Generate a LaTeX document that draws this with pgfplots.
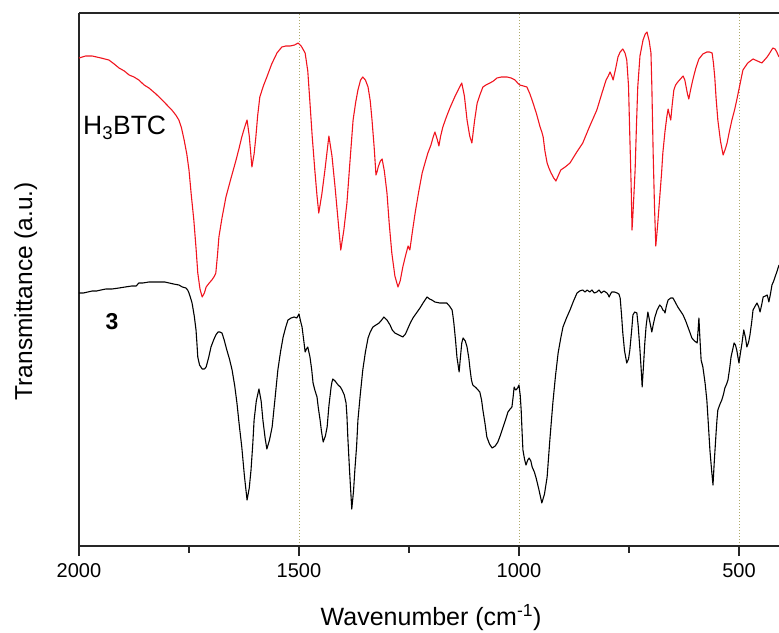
\documentclass[border=0pt]{standalone}
\usepackage{pgfplots}
\pgfplotsset{compat=1.18}
\usepackage{fontspec}
\setmainfont{Liberation Sans}
\definecolor{gridc}{RGB}{175,170,105}
\definecolor{specred}{RGB}{240,20,30}
\begin{document}
\begin{tikzpicture}
\begin{axis}[
  scale only axis,
  width=700pt, height=533pt,
  x dir=reverse,
  xmin=409, xmax=2000,
  ymin=0, ymax=533,
  axis x line*=box,
  axis y line*=left,
  axis line style={-, line width=1.6pt, black!85},
  xtick={500,1000,1500,2000},
  minor xtick={750,1250,1750},
  xtick pos=bottom,
  xtick align=outside,
  major tick length=10pt,
  minor tick length=6.5pt,
  every tick/.style={black!85, line width=1.4pt},
  ytick=\empty,
  xmajorgrids,
  major grid style={gridc, dash pattern=on 1pt off 2pt, line width=0.8pt},
  /pgf/number format/assume math mode=true,
  /pgf/number format/1000 sep={},
  xticklabel style={font=\fontsize{20}{22}\selectfont, yshift=-4pt},
  xlabel={Wavenumber (cm\textsuperscript{-1})},
  ylabel={Transmittance (a.u.)},
  every axis x label/.style={at={(axis description cs:0.503,-0.150)}, anchor=base, font=\fontsize{25}{27}\selectfont},
  every axis y label/.style={at={(axis description cs:-0.067,0.478)}, rotate=90, anchor=base, font=\fontsize{24.5}{26}\selectfont},
  clip=true,
]
\coordinate (sw) at (rel axis cs:0,0);
\coordinate (ne) at (rel axis cs:1,1);
% H3BTC
\addplot[specred, line width=1.1pt, line join=round] coordinates {
(2000,488) (1985,490) (1970,490) (1950,488) (1932,486) (1920,482) (1909,478) (1897,475) (1886,471) (1875,469) (1864,466) (1852,461) (1841,458) (1825,452) (1811,446) (1800,441) (1789,436) (1780,431) (1773,426) (1767,418) (1761,406) (1755,392) (1750,376) (1745,352) (1739,326) (1734,298) (1730,273) (1725,257) (1720,249) (1715,253) (1711,259) (1704,263) (1698,266) (1692,270) (1689,273) (1685,292) (1682,309) (1675,328) (1666,349) (1655,367) (1643,386) (1636,398) (1630,409) (1624,418) (1618,426) (1613,410) (1607,379) (1602,392) (1598,409) (1594,430) (1589,449) (1581,460) (1573,469) (1562,482) (1550,493) (1539,499) (1530,500) (1520,500) (1510,501) (1502,503) (1495,500) (1486,493) (1480,475) (1475,443) (1470,410) (1464,376) (1459,350) (1455,333) (1448,352) (1441,376) (1436,395) (1432,410) (1425,390) (1418,359) (1411,325) (1405,296) (1398,316) (1391,343) (1384,385) (1377,426) (1371,444) (1366,456) (1360,466) (1355,469) (1349,466) (1343,459) (1338,445) (1334,426) (1329,398) (1325,371) (1322,375) (1320,379) (1315,385) (1311,387) (1306,375) (1300,353) (1295,323) (1289,293) (1282,270) (1275,259) (1270,265) (1264,279) (1258,290) (1252,300) (1248,296) (1242,315) (1236,333) (1228,354) (1220,373) (1213,384) (1207,393) (1200,401) (1195,409) (1191,414) (1186,407) (1182,400) (1178,410) (1173,419) (1165,429) (1157,438) (1145,450) (1136,458) (1130,463) (1124,450) (1118,426) (1112,410) (1107,403) (1101,425) (1095,443) (1088,452) (1082,459) (1075,461) (1066,463) (1058,465) (1050,468) (1040,469) (1027,469) (1018,468) (1009,466) (1003,463) (998,461) (990,460) (982,459) (975,452) (968,443) (960,432) (952,419) (948,414) (945,409) (941,395) (936,383) (932,378) (927,373) (921,368) (916,365) (911,370) (905,376) (895,379) (884,383) (870,393) (855,403) (840,419) (823,436) (812,452) (802,466) (797,470) (793,474) (789,470) (786,466) (780,478) (775,489) (770,494) (764,497) (759,493) (755,486) (751,460) (748,409) (745,360) (743,316) (740,340) (736,376) (733,420) (730,459) (725,490) (718,506) (713,512) (709,514) (704,505) (700,493) (698,460) (695,393) (692,340) (689,300) (685,320) (680,349) (676,372) (673,393) (668,415) (664,429) (661,437) (658,431) (655,426) (652,440) (648,456) (644,461) (639,464) (633,467) (627,470) (623,466) (620,459) (617,452) (614,447) (610,456) (605,466) (598,478) (591,487) (582,492) (573,494) (567,494) (561,493) (558,483) (555,469) (552,448) (548,426) (542,405) (536,391) (531,397) (527,403) (522,414) (516,426) (510,436) (505,446) (498,461) (491,476) (480,483) (468,487) (458,485) (448,483) (442,486) (436,489) (430,493) (423,498) (418,497) (414,494) (409,489)
};
% compound 3
\addplot[black, line width=1.1pt, line join=round] coordinates {
(2000,253) (1990,253) (1980,254) (1970,255) (1960,255) (1950,256) (1939,257) (1925,257) (1909,258) (1895,259) (1880,260) (1870,260) (1864,263) (1855,263) (1841,264) (1830,264) (1814,264) (1805,264) (1795,263) (1785,262) (1773,261) (1765,259) (1757,258) (1753,256) (1750,253) (1747,249) (1743,243) (1738,230) (1734,216) (1732,203) (1730,189) (1726,181) (1720,177) (1715,177) (1711,179) (1705,189) (1700,199) (1694,206) (1689,211) (1684,214) (1680,214) (1675,213) (1670,206) (1664,196) (1658,187) (1652,176) (1646,160) (1641,143) (1636,122) (1630,99) (1624,70) (1618,46) (1613,58) (1609,76) (1605,102) (1602,126) (1597,145) (1591,157) (1586,145) (1582,126) (1577,108) (1573,97) (1567,106) (1561,119) (1555,145) (1548,176) (1542,194) (1536,209) (1530,219) (1525,226) (1518,228) (1511,229) (1505,228) (1500,232) (1497,226) (1493,219) (1489,205) (1486,194) (1483,197) (1480,199) (1478,195) (1475,189) (1471,176) (1468,163) (1464,156) (1459,149) (1456,138) (1452,126) (1449,115) (1445,104) (1440,110) (1436,119) (1432,140) (1427,159) (1425,164) (1423,167) (1418,165) (1411,161) (1406,159) (1402,156) (1397,151) (1393,143) (1391,130) (1389,109) (1385,75) (1380,37) (1376,55) (1373,76) (1369,100) (1366,126) (1361,150) (1355,176) (1349,194) (1343,208) (1338,214) (1332,219) (1325,221) (1318,223) (1312,226) (1307,229) (1300,226) (1293,221) (1288,216) (1282,213) (1273,211) (1264,209) (1258,212) (1252,218) (1247,223) (1241,228) (1233,233) (1225,238) (1218,243) (1209,249) (1203,247) (1198,246) (1191,244) (1180,243) (1170,243) (1164,243) (1158,240) (1152,236) (1150,230) (1148,223) (1144,205) (1141,189) (1138,180) (1136,174) (1133,189) (1130,203) (1127,208) (1122,205) (1118,199) (1114,188) (1111,176) (1108,166) (1105,161) (1097,158) (1089,154) (1085,146) (1082,136) (1077,122) (1073,109) (1067,102) (1061,98) (1054,100) (1048,104) (1042,111) (1036,119) (1030,127) (1025,134) (1020,137) (1016,139) (1013,150) (1011,159) (1009,157) (1007,156) (1003,158) (1000,161) (997,150) (995,136) (993,115) (991,96) (987,86) (984,81) (980,86) (977,88) (973,85) (970,79) (965,74) (961,68) (955,57) (948,43) (942,52) (936,69) (930,105) (923,143) (917,170) (911,193) (905,208) (900,219) (892,228) (884,236) (876,245) (868,253) (862,255) (855,256) (850,254) (845,256) (839,254) (834,256) (829,253) (823,254) (818,256) (813,253) (807,255) (800,253) (797,251) (795,249) (792,252) (789,254) (783,254) (777,253) (773,252) (770,248) (767,232) (764,213) (760,195) (755,183) (751,187) (748,196) (744,215) (741,231) (737,234) (732,233) (729,220) (725,196) (722,175) (720,159) (717,180) (714,203) (711,220) (707,234) (703,225) (698,214) (695,221) (691,229) (686,236) (680,241) (676,239) (673,236) (670,235) (668,233) (665,240) (661,246) (655,248) (650,248) (645,244) (639,239) (633,235) (627,231) (621,225) (616,219) (611,213) (607,208) (601,205) (595,203) (593,215) (591,228) (589,210) (586,186) (582,179) (577,163) (573,146) (570,125) (566,96) (562,75) (559,61) (556,85) (552,113) (550,126) (548,136) (543,142) (539,146) (535,152) (532,158) (528,162) (525,166) (521,178) (518,189) (514,197) (511,203) (508,201) (505,196) (502,188) (500,183) (497,192) (493,203) (491,210) (489,216) (485,208) (482,199) (478,204) (475,211) (471,224) (468,236) (463,240) (459,243) (455,239) (452,234) (448,242) (445,249) (440,250) (436,251) (434,248) (432,244) (428,253) (425,261) (421,265) (418,269) (414,274) (409,281)
};
\node[anchor=base west, font=\fontsize{26.5}{28}\selectfont, inner sep=0pt] at (axis cs:1991,411) {H\textsubscript{3}BTC};
\node[anchor=base west, font=\fontsize{23}{25}\selectfont\bfseries, inner sep=0pt] at (axis cs:1940,216) {3};
\end{axis}
\pgfresetboundingbox
\path[use as bounding box] ([shift={(-79pt,-86pt)}]sw) rectangle ([shift={(0pt,13pt)}]ne);
\end{tikzpicture}
\end{document}
